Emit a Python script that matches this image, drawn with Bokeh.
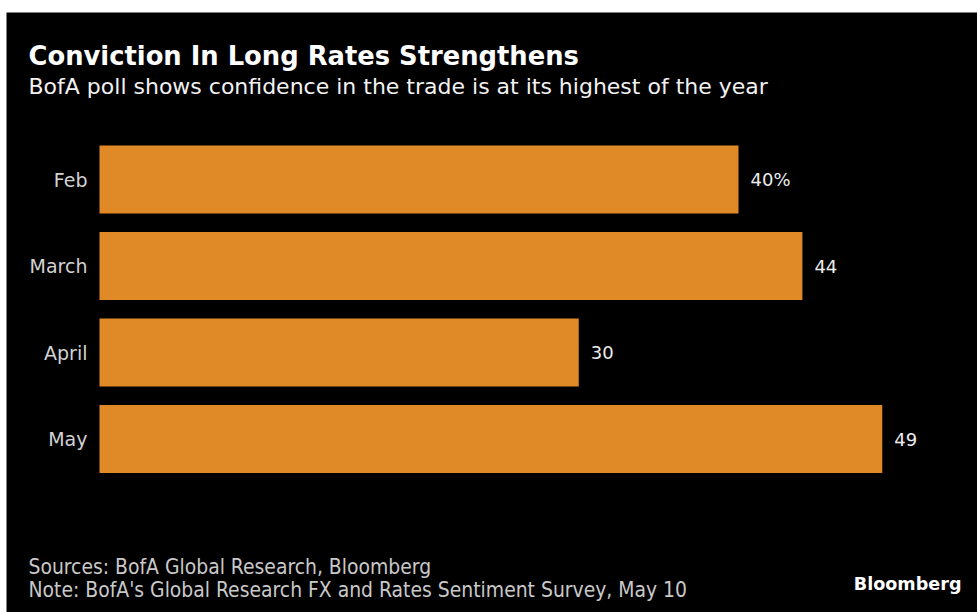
from bokeh.plotting import figure
from bokeh.models import ColumnDataSource, Label, LabelSet, Range1d
from bokeh.core.properties import value
from bokeh.embed import file_html
from bokeh.resources import INLINE

# ---- data ----
months = ["Feb", "March", "April", "May"]
values = [40, 44, 30, 49]
value_labels = ["40%", "44", "30", "49"]

title = "Conviction In Long Rates Strengthens"
subtitle = "BofA poll shows confidence in the trade is at its highest of the year"
source_note = "Sources: BofA Global Research, Bloomberg"
note = "Note: BofA's Global Research FX and Rates Sentiment Survey, May 10"
brand = "Bloomberg"

# ---- layout (pixels) ----
W, H = 971, 600
ZERO_X = 93            # pixel x of value 0 inside the figure
PX_PER_UNIT = 15.975   # horizontal scale
TOP_CENTER_Y = 167     # pixel y (from figure top) of first bar's center
PITCH = 86.5           # vertical distance between bar centers
BAR_H = 68 / PITCH

BG = "#000000"
BAR = "#DF8A26"
FONT = "DejaVu Sans"
COND = "DejaVu Sans Condensed"

n = len(months)
ypos = [n - 1 - i for i in range(n)]  # first month on top
src = ColumnDataSource(dict(month=months, value=values, label=value_labels, y=ypos))

x_range = Range1d(-ZERO_X / PX_PER_UNIT, (W - ZERO_X) / PX_PER_UNIT)
y_top = (n - 1) + TOP_CENTER_Y / PITCH
y_bot = (n - 1) - (H - TOP_CENTER_Y) / PITCH
y_range = Range1d(y_bot, y_top)

p = figure(width=W, height=H, output_backend="svg", toolbar_location=None,
           x_range=x_range, y_range=y_range,
           min_border=0, min_border_left=0, min_border_right=0,
           min_border_top=0, min_border_bottom=0)
p.styles = {"margin-top": "12px", "margin-left": "6px"}
p.background_fill_color = BG
p.border_fill_color = BG
p.outline_line_color = None
p.grid.visible = False
p.xaxis.visible = False
p.yaxis.visible = False

p.hbar(y="y", right="value", left=0, height=BAR_H, source=src,
       fill_color=BAR, line_color=None)

# category labels
p.add_layout(LabelSet(x=0, y="y", text="month", source=src, x_offset=-12,
                      text_align="right", text_baseline="middle",
                      text_color="#d2d2d2", text_font=value(FONT),
                      text_font_size=value("19px")))
# value labels
p.add_layout(LabelSet(x="value", y="y", text="label", source=src, x_offset=12,
                      text_baseline="middle", text_color="#ececec",
                      text_font=value(FONT), text_font_size=value("18px")))

def screen_label(x, y_from_top, text, **kw):
    p.add_layout(Label(x=x, y=H - y_from_top, x_units="screen", y_units="screen",
                       text=text, text_baseline="alphabetic", **kw))

screen_label(22, 43, title, text_font=FONT, text_font_style="bold",
             text_font_size="25.8px", text_color="#ffffff")
screen_label(22, 74, subtitle, text_font=FONT, text_font_size="22px",
             text_color="#f2f2f2")
screen_label(22, 554.5, source_note, text_font=COND, text_font_size="20.9px",
             text_color="#c9c9c9")
screen_label(22, 577.5, note, text_font=COND, text_font_size="20.9px",
             text_color="#c9c9c9")
screen_label(W - 16, 571, brand, text_font=FONT, text_font_style="bold",
             text_font_size="17.6px", text_color="#ffffff", text_align="right")

open("out.html", "w").write(file_html(p, INLINE))
